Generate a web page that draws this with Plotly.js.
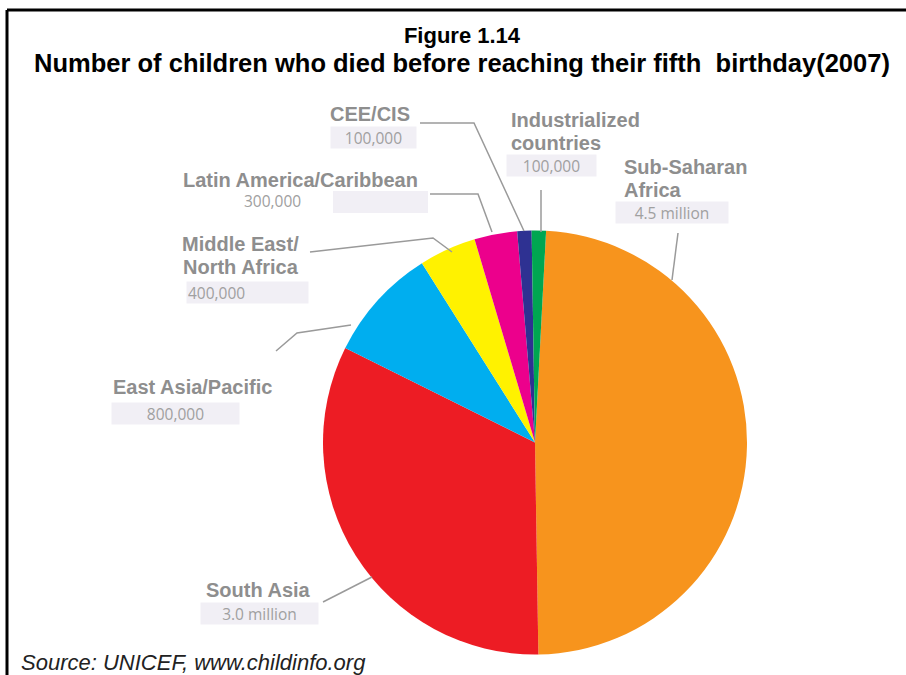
<!DOCTYPE html>
<html>
<head>
<meta charset="utf-8">
<script src="https://cdn.plot.ly/plotly-3.0.1.min.js"></script>
<style>
html,body{margin:0;padding:0;background:#fff;}
#chart{width:906px;height:675px;}
</style>
</head>
<body>
<div id="chart"></div>
<script>
// ---- data ----
const regions = ['Sub-Saharan Africa', 'South Asia', 'East Asia/Pacific', 'Middle East/North Africa', 'Latin America/Caribbean', 'CEE/CIS', 'Industrialized countries'];
const regionLabels = ['Sub-Saharan<br>Africa', 'South Asia', 'East Asia/Pacific', 'Middle East/<br>North Africa', 'Latin America/Caribbean', 'CEE/CIS', 'Industrialized<br>countries'];
const deaths = [4500000, 3000000, 800000, 400000, 300000, 100000, 100000];
const deathLabels = ['4.5 million', '3.0 million', '800,000', '400,000', '300,000', '100,000', '100,000'];
const sliceColors = ['#F7941D', '#ED1C24', '#00AEEF', '#FFF200', '#EC008C', '#2E3192', '#00A651'];

// ---- layout helpers (pixel -> paper) ----
const W = 906, H = 675;
const X = px => px / W;
const Y = py => 1 - py / H;

const labelGray = '#8e8e8e';
const valueGray = '#a0a0a0';
const boxFill = '#f1eff5';
const fontFam = 'Arial, "Liberation Sans", sans-serif';
const valueFam = '"Open Sans", Arial, sans-serif';
const lineStep = 23;

// label placement (pixels): first-line centre, value box centre & width
const place = [
  {nx: 622, ny: 167, xa: 'left', vx: 672, vy: 212, vw: 110, vAlign: 'center'},
  {nx: 258, ny: 590, xa: 'center', vx: 259, vy: 613, vw: 115, vAlign: 'center'},
  {nx: 192, ny: 387, xa: 'center', vx: 175, vy: 413, vw: 125, vAlign: 'center'},
  {nx: 301, ny: 244, xa: 'right', vx: 247, vy: 292, vw: 119, vAlign: 'left'},
  {nx: 300, ny: 180, xa: 'center', vx: 272, vy: 201, vw: 0, vAlign: 'center'},
  {nx: 370, ny: 114, xa: 'center', vx: 373, vy: 137, vw: 83, vAlign: 'center'},
  {nx: 509, ny: 120, xa: 'left', vx: 551, vy: 165, vw: 87, vAlign: 'center'}
];

const annotations = [];
regions.forEach((r, i) => {
  const p = place[i];
  regionLabels[i].split('<br>').forEach((line, k) => {
    annotations.push({
      xref: 'paper', yref: 'paper', x: X(p.nx), y: Y(p.ny + k * lineStep), xanchor: p.xa, yanchor: 'middle',
      showarrow: false, text: '<b>' + line + '</b>',
      font: {family: fontFam, size: 20, color: labelGray}
    });
  });
  const va = {
    xref: 'paper', yref: 'paper', x: X(p.vx), y: Y(p.vy), xanchor: 'center', yanchor: 'middle',
    showarrow: false, text: deathLabels[i],
    font: {family: valueFam, size: 15.5, color: valueGray}
  };
  if (p.vw > 0) {
    va.bgcolor = boxFill; va.width = p.vw; va.height = 19; va.align = p.vAlign; va.borderpad = 1;
  }
  annotations.push(va);
});

annotations.push({
  xref: 'paper', yref: 'paper', x: X(19), y: Y(662), xanchor: 'left', yanchor: 'middle',
  showarrow: false, text: '<i>Source: UNICEF, www.childinfo.org</i>',
  font: {family: fontFam, size: 22, color: '#222222'}
});

const path = pts => pts.map((p, k) => (k ? 'L' : 'M') + X(p[0]) + ',' + Y(p[1])).join(' ');
const leaders = [
  [[678, 233], [672, 280]],
  [[323, 602], [372, 577]],
  [[276, 351], [297, 333], [351, 325]],
  [[310, 252], [433, 238], [452, 252]],
  [[430, 194], [478, 194], [492, 232]],
  [[420, 123], [474, 123], [524, 231]],
  [[541, 190], [541, 232]]
];
const shapes = leaders.map(pts => ({
  type: 'path', xref: 'paper', yref: 'paper', path: path(pts),
  line: {color: '#9a9a9a', width: 1.5}
}));
// empty value box beside Latin America label
shapes.push({type: 'rect', xref: 'paper', yref: 'paper', x0: X(333), x1: X(428), y0: Y(213), y1: Y(191),
  fillcolor: boxFill, line: {width: 0}, layer: 'below'});
// frame lines (top and left)
shapes.push({type: 'line', xref: 'paper', yref: 'paper', x0: X(7), x1: X(906), y0: Y(10), y1: Y(10), line: {color: '#000', width: 3}});
shapes.push({type: 'line', xref: 'paper', yref: 'paper', x0: X(7), x1: X(7), y0: Y(10), y1: Y(675), line: {color: '#000', width: 3}});

const trace = {
  type: 'pie', labels: regions, values: deaths, sort: false, direction: 'clockwise', rotation: 3,
  marker: {colors: sliceColors, line: {width: 0}},
  textinfo: 'none', hoverinfo: 'label+value',
  domain: {x: [X(323), X(747)], y: [Y(655), Y(230)]}
};

const layout = {
  width: W, height: H, margin: {l: 0, r: 0, t: 0, b: 0},
  paper_bgcolor: '#ffffff', plot_bgcolor: '#ffffff', showlegend: false,
  title: {text: '<b>Figure 1.14</b><br><b><span style="font-size:25.5px">Number of children who died before reaching their fifth  birthday(2007)</span></b>',
    x: X(462), xanchor: 'center', y: Y(43), yanchor: 'top',
    font: {family: fontFam, size: 22, color: '#000'}},
  annotations: annotations, shapes: shapes
};

Plotly.newPlot('chart', [trace], layout, {displayModeBar: false, staticPlot: true});
</script>
</body>
</html>
